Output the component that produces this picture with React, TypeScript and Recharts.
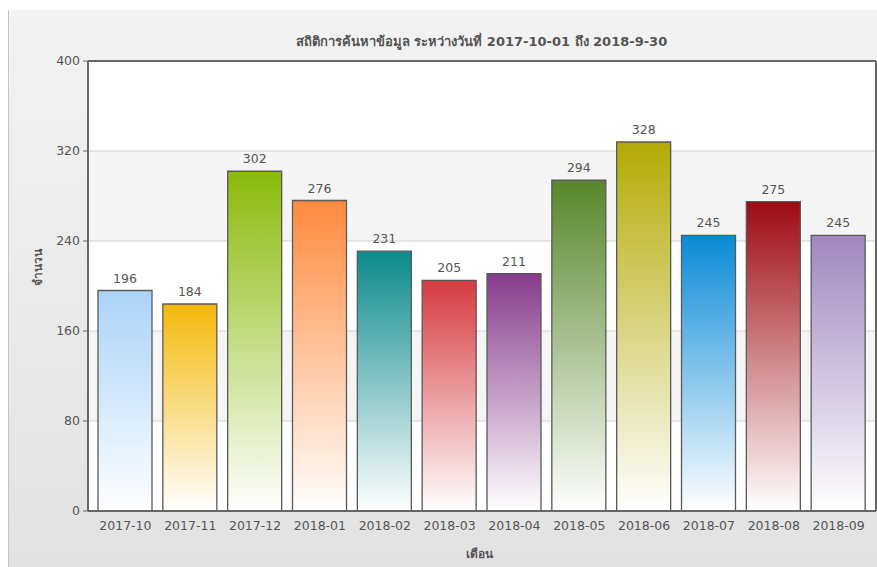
import {
  Bar,
  BarChart,
  CartesianGrid,
  Cell,
  LabelList,
  XAxis,
  YAxis,
} from "recharts";

const months = [
  "2017-10",
  "2017-11",
  "2017-12",
  "2018-01",
  "2018-02",
  "2018-03",
  "2018-04",
  "2018-05",
  "2018-06",
  "2018-07",
  "2018-08",
  "2018-09",
];
const counts = [196, 184, 302, 276, 231, 205, 211, 294, 328, 245, 275, 245];
const yTicks = [0, 80, 160, 240, 320, 400];

const title = "สถิติการค้นหาข้อมูล ระหว่างวันที่ 2017-10-01 ถึง 2018-9-30";
const yLabel = "จำนวน";
const xLabel = "เดือน";

// top colour of each bar, fades to white at the base
const palette = [
  "#a9d3f7",
  "#f5b90a",
  "#8aba0a",
  "#ff8a3d",
  "#0b8a8c",
  "#d63b40",
  "#873b8c",
  "#57862a",
  "#b3aa05",
  "#0a8ad8",
  "#9e0a12",
  "#9f87bf",
];

const data = months.map((month, i) => ({ month, count: counts[i] }));

const font = "'DejaVu Sans', Verdana, sans-serif";
const frame = { stroke: "#666", strokeWidth: 2 };

export default function App() {
  return (
    <div
      style={{
        position: "fixed",
        left: 8,
        top: 10,
        width: 869,
        height: 557,
        background: "linear-gradient(#f3f3f3, #e2e2e2)",
        borderLeft: "1px solid #c4c4c4",
        boxSizing: "border-box",
        fontFamily: font,
      }}
    >
      <div
        style={{
          position: "absolute",
          left: 78,
          width: 789,
          top: 21,
          textAlign: "center",
          fontSize: 13,
          fontWeight: "bold",
          color: "#555",
        }}
      >
        {title}
      </div>
      <BarChart
        width={868}
        height={557}
        data={data}
        margin={{ top: 50, right: 0, left: 0, bottom: 0 }}
        barSize={54}
        style={{ position: "absolute", left: 0, top: 0 }}
      >
        <defs>
          {palette.map((c, i) => (
            <linearGradient key={i} id={`bar-grad-${i}`} x1="0" y1="0" x2="0" y2="1">
              <stop offset="0%" stopColor={c} />
              <stop offset="100%" stopColor="#ffffff" />
            </linearGradient>
          ))}
        </defs>
        <CartesianGrid
          vertical={false}
          stroke="#cfcfcf"
          horizontalFill={["#ffffff", "#f5f5f5"]}
        />
        <XAxis
          dataKey="month"
          height={56}
          padding={{ left: 5, right: 5 }}
          tickLine={false}
          axisLine={frame}
          tick={{ fontSize: 12.5, fill: "#555", fontFamily: font }}
          tickMargin={4}
          label={{
            value: xLabel,
            position: "insideBottom",
            offset: 9,
            dx: -3,
            fontSize: 12,
            fontWeight: "bold",
            fill: "#555",
          }}
        />
        <XAxis
          xAxisId="top"
          orientation="top"
          dataKey="month"
          height={1}
          tick={false}
          tickLine={false}
          axisLine={frame}
        />
        <YAxis
          width={79}
          domain={[0, 400]}
          ticks={yTicks}
          tickSize={5}
          tickLine={{ stroke: "#666" }}
          axisLine={frame}
          tick={{ fontSize: 12.5, fill: "#555", fontFamily: font }}
          tickMargin={3}
          label={{
            value: yLabel,
            angle: -90,
            position: "insideLeft",
            offset: 29,
            fontSize: 12,
            fontWeight: "bold",
            fill: "#555",
          }}
        />
        <YAxis
          yAxisId="right"
          orientation="right"
          width={1}
          domain={[0, 400]}
          tick={false}
          tickLine={false}
          axisLine={frame}
        />
        <Bar
          dataKey="count"
          stroke="#5a5a5a"
          strokeWidth={1.3}
          isAnimationActive={false}
        >
          {data.map((d, i) => (
            <Cell key={d.month} fill={`url(#bar-grad-${i})`} />
          ))}
          <LabelList
            dataKey="count"
            position="top"
            offset={8}
            fill="#555"
            fontSize={12.5}
            fontFamily={font}
          />
        </Bar>
      </BarChart>
    </div>
  );
}
